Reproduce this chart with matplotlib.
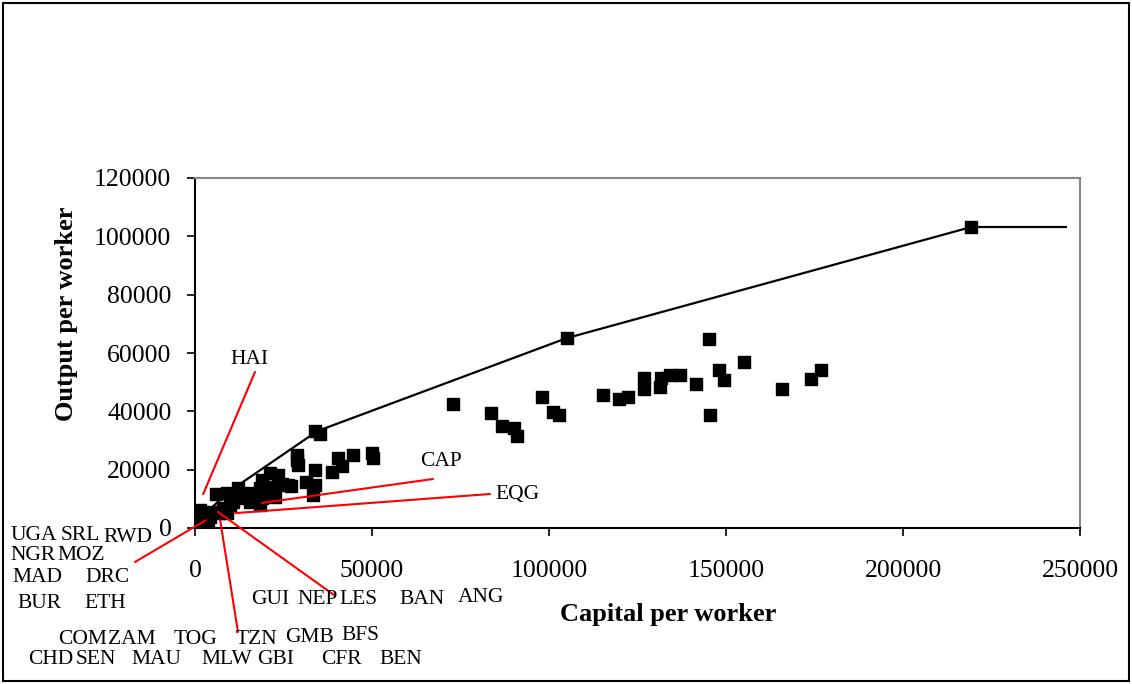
import matplotlib
matplotlib.use("Agg")
import matplotlib.pyplot as plt
from matplotlib.patches import Rectangle

plt.rcParams["font.family"] = ["Liberation Serif", "DejaVu Serif"]

W, H = 1132, 684

# capital per worker / output per worker
capital = [72900, 83600, 86700, 90100, 91000, 98000, 101100, 102800, 105000,
           115300, 119800, 122300, 126800, 126800, 131600, 131400, 134200,
           137000, 141500, 145200, 148000, 149400, 145500, 155100, 165800,
           174000, 176800, 219300,
           33900, 35300, 28800, 28800, 29100, 33900, 31400, 33900, 33300,
           38700, 40400, 41500, 44600, 50000, 50300,
           21200, 18900, 23400, 26300, 22000, 18400, 20300, 22600, 18900,
           18400, 12200, 14700, 13300, 10700, 15500, 5900, 9000, 9900, 7900,
           7100, 9000, 5100, 1400, 600, 2300, 600, 3700, 300, 2000, 4200,
           11000, 16000, 24500, 27000]
output = [42500, 39400, 35000, 34300, 31500, 44900, 39800, 38700, 65100,
          45600, 44200, 44900, 51400, 47700, 51400, 48300, 52500,
          52500, 49400, 64800, 54200, 50700, 38700, 56900, 47700,
          51100, 54200, 103200,
          33200, 32200, 25000, 23300, 21600, 19900, 15800, 14700, 11300,
          19200, 24000, 21200, 25000, 25700, 24000,
          18800, 16400, 18200, 14700, 14000, 13700, 13000, 10600, 10300,
          7900, 13700, 12000, 10300, 8900, 8900, 11600, 12000, 7900, 6900,
          5100, 5100, 5500, 6200, 5100, 3800, 2100, 2700, 3000, 1000, 3800,
          11000, 9500, 15000, 14500]

# efficiency frontier
frontier_k = [600, 9000, 34500, 105000, 219300, 246000]
frontier_y = [2100, 12000, 33200, 65100, 103200, 103200]

# labels linked by red lines: name, data point
linked = ["HAI", "CAP", "EQG", "", "", ""]
linked_k = [2300, 18900, 11300, 3100, 7100, 6500]
linked_y = [11600, 8600, 5100, 2700, 2700, 5500]
# where each red line ends (figure pixels)
line_end = [(255, 372), (433, 479), (490, 494), (135, 562), (238, 632), (334, 595)]
label_pos = [(250, 360), (441, 461), (517, 494)]

# country codes printed below the axes
countries = ["UGA", "SRL", "RWD", "NGR", "MOZ", "MAD", "DRC", "BUR", "ETH",
             "GUI", "NEP", "LES", "BAN", "ANG",
             "COM", "ZAM", "TOG", "TZN", "GMB", "BFS",
             "CHD", "SEN", "MAU", "MLW", "GBI", "CFR", "BEN"]
country_pos = [(34, 536), (80, 536), (128, 537), (33, 556), (81, 556),
               (37, 578), (108, 578), (39, 603), (105, 603),
               (270, 600), (318, 599), (359, 599), (422, 599), (481, 598),
               (83, 639), (132, 639), (196, 639), (256, 640), (310, 638), (360, 636),
               (51, 659), (96, 659), (156, 659), (227, 660), (276, 659), (341, 660), (401, 660)]


def fpos(p):
    return p[0] / W, 1 - p[1] / H


fig = plt.figure(figsize=(W / 100, H / 100), dpi=100)
ax = fig.add_axes([195 / W, 1 - 528 / H, 885 / W, 350 / H])

ax.plot(frontier_k, frontier_y, color="black", lw=1.6, zorder=2)
ax.scatter(capital, output, marker="s", s=76, color="black", zorder=3)

ax.set_xlim(0, 250000)
ax.set_ylim(0, 120000)
ax.set_xticks(range(0, 250001, 50000))
ax.set_yticks(range(0, 120001, 20000))
ax.tick_params(axis="both", direction="out", length=6, width=1.2, labelsize=18.5)
ax.tick_params(axis="x", pad=17)
ax.tick_params(axis="y", pad=11)
for s in ["left", "bottom"]:
    ax.spines[s].set_color("black")
    ax.spines[s].set_linewidth(1.5)
for s in ["top", "right"]:
    ax.spines[s].set_color("#888888")
    ax.spines[s].set_linewidth(1.5)

fig.text(*fpos((668, 615)), "Capital per worker", fontsize=19, fontweight="bold",
         ha="center", va="center")
fig.text(*fpos((67, 314)), "Output per worker", fontsize=19, fontweight="bold",
         ha="center", va="center", rotation=90)

for i in range(len(linked)):
    ax.annotate("", xy=(linked_k[i], linked_y[i]), xytext=fpos(line_end[i]),
                textcoords="figure fraction", annotation_clip=False,
                arrowprops=dict(arrowstyle="-", color="red", lw=1.5,
                                shrinkA=0, shrinkB=0), zorder=4)
for name, p in zip(linked, label_pos):
    fig.text(*fpos(p), name, fontsize=15.5, ha="center", va="center")

for name, p in zip(countries, country_pos):
    fig.text(*fpos(p), name, fontsize=15.5, ha="center", va="center")

fig.patches.append(Rectangle((3 / W, 3 / H), 1 - 6 / W, 1 - 6 / H, fill=False,
                             edgecolor="black", lw=1.5, transform=fig.transFigure))

fig.savefig("out.png", dpi=100)
